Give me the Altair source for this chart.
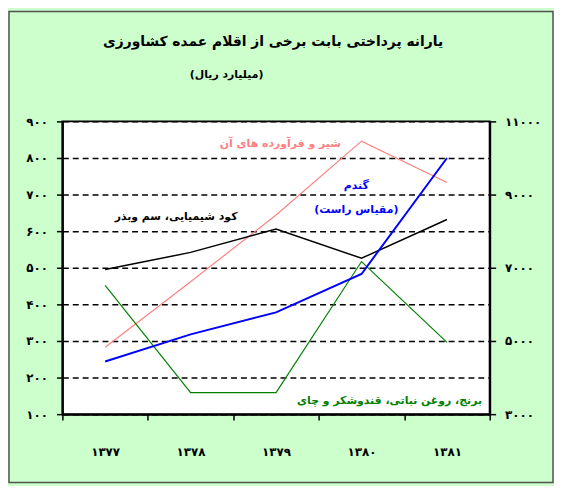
import altair as alt
import pandas as pd

# ---------------- data ----------------
years = [1377, 1378, 1379, 1380, 1381]
years_fa = ["۱۳۷۷", "۱۳۷۸", "۱۳۷۹", "۱۳۸۰", "۱۳۸۱"]

milk = [283, 462, 644, 846, 733]      # left scale
fert = [495, 542, 606, 526, 632]      # left scale
rice = [452, 159, 159, 517, 296]      # left scale
wheat = [4440, 5180, 5780, 6830, 10000]  # right scale

left_ticks = [100, 200, 300, 400, 500, 600, 700, 800, 900]
left_labels = ["۱۰۰", "۲۰۰", "۳۰۰", "۴۰۰", "۵۰۰", "۶۰۰", "۷۰۰", "۸۰۰", "۹۰۰"]
right_ticks = [3000, 5000, 7000, 9000, 11000]
right_labels = ["۳۰۰۰", "۵۰۰۰", "۷۰۰۰", "۹۰۰۰", "۱۱۰۰۰"]

title_text = "یارانه پرداختی بابت برخی از اقلام عمده کشاورزی"
subtitle_text = "(میلیارد ریال)"

ann_text = ["شیر و فرآورده های آن", "کود شیمیایی، سم وبذر", "گندم", "(مقیاس راست)"]
ann_year = [1379.05, 1377.83, 1379.94, 1379.94]
ann_value = [838, 638, 724, 659]
ann_color = ["#FF8080", "#000000", "#0000FF", "#0000FF"]

rice_text = ["برنج، روغن نباتی، قندوشکر و چای"]
rice_year = [1381.41]
rice_value = [135]

FONT = "DejaVu Sans"

# ---------------- scales / axes ----------------
x_vals = [y - 0.5 for y in years] + [years[-1] + 0.5]
x_expr = "[" + ",".join("'%s'" % s for s in years_fa + [""]) + "][round(datum.value - %s)]" % x_vals[0]
left_expr = "[" + ",".join("'%s'" % s for s in left_labels) + "][round((datum.value - 100) / 100)]"
right_expr = "[" + ",".join("'%s'" % s for s in right_labels) + "][round((datum.value - 3000) / 2000)]"

x_scale = alt.Scale(domain=[x_vals[0], x_vals[-1]], nice=False, zero=False)
x_axis = alt.Axis(values=x_vals, labelExpr=x_expr, labelOffset=43.2, labelFlush=False,
                  labelOverlap=False, title=None, grid=False, tickSize=6,
                  labelPadding=27, labelFontSize=12)
y_scale = alt.Scale(domain=[100, 900], nice=False, zero=False)
y_axis = alt.Axis(values=left_ticks, labelExpr=left_expr, title=None, grid=True,
                  gridColor="black", gridDash=[6, 4], gridWidth=1.5, tickSize=6,
                  labelPadding=9, labelFontSize=12)
y2_scale = alt.Scale(domain=[3000, 11000], nice=False, zero=False)
y2_axis = alt.Axis(values=right_ticks, labelExpr=right_expr, title=None, grid=False,
                   orient="right", tickSize=6, labelPadding=9, labelFontSize=12)


def line_layer(vals, color, width):
    df = pd.DataFrame({"year": years, "value": vals})
    return alt.Chart(df).mark_line(color=color, strokeWidth=width).encode(
        x=alt.X("year:Q", scale=x_scale, axis=x_axis),
        y=alt.Y("value:Q", scale=y_scale, axis=y_axis),
    )


pink = line_layer(milk, "#FF8080", 1.2)
black = line_layer(fert, "#000000", 1.5)
green = line_layer(rice, "#008000", 1.2)

ann_df = pd.DataFrame({"t": ann_text, "year": ann_year, "value": ann_value, "c": ann_color})
ann = alt.Chart(ann_df).mark_text(font=FONT, fontSize=11, fontWeight="bold",
                                  align="center", baseline="middle").encode(
    x=alt.X("year:Q", scale=x_scale, axis=x_axis),
    y=alt.Y("value:Q", scale=y_scale, axis=y_axis),
    text="t:N",
    color=alt.Color("c:N", scale=None),
)

rice_df = pd.DataFrame({"t": rice_text, "year": rice_year, "value": rice_value})
rice_ann = alt.Chart(rice_df).mark_text(font=FONT, fontSize=11, fontWeight="bold",
                                        align="right", baseline="middle", color="#008000").encode(
    x=alt.X("year:Q", scale=x_scale, axis=x_axis),
    y=alt.Y("value:Q", scale=y_scale, axis=y_axis),
    text="t:N",
)

title_mark = alt.Chart(pd.DataFrame({"t": [title_text]})).mark_text(
    font=FONT, fontSize=14, fontWeight="bold", align="center", baseline="middle", color="black"
).encode(text="t:N", x=alt.value(213), y=alt.value(-80))

subtitle_mark = alt.Chart(pd.DataFrame({"t": [subtitle_text]})).mark_text(
    font=FONT, fontSize=11, fontWeight="bold", align="center", baseline="middle", color="black"
).encode(text="t:N", x=alt.value(166), y=alt.value(-47))

frame = alt.Chart(pd.DataFrame({"f": [0]})).mark_rect(
    fillOpacity=0, stroke="#505050", strokeWidth=1.5
).encode(x=alt.value(-54), x2=alt.value(496), y=alt.value(-111), y2=alt.value(365))

left_group = alt.layer(frame, title_mark, subtitle_mark, pink, black, green, ann, rice_ann)

blue_df = pd.DataFrame({"year": years, "value": wheat})
blue = alt.Chart(blue_df).mark_line(color="#0000FF", strokeWidth=2).encode(
    x=alt.X("year:Q", scale=x_scale, axis=x_axis),
    y=alt.Y("value:Q", scale=y2_scale, axis=y2_axis),
)

chart = alt.layer(left_group, blue).resolve_scale(y="independent").properties(
    width=432, height=296,
    padding={"left": 55, "top": 112, "right": 65, "bottom": 70},
    autosize=alt.AutoSizeParams(type="none"),
).configure(background="#CCFFCC").configure_view(
    fill="white", stroke="black", strokeWidth=2
).configure_axis(
    domainColor="black", domainWidth=2, tickColor="black", tickWidth=1.5,
    labelFont=FONT, labelFontWeight="bold", labelColor="black",
)

chart.save("out.html", embed_options={"renderer": "svg", "actions": False})
